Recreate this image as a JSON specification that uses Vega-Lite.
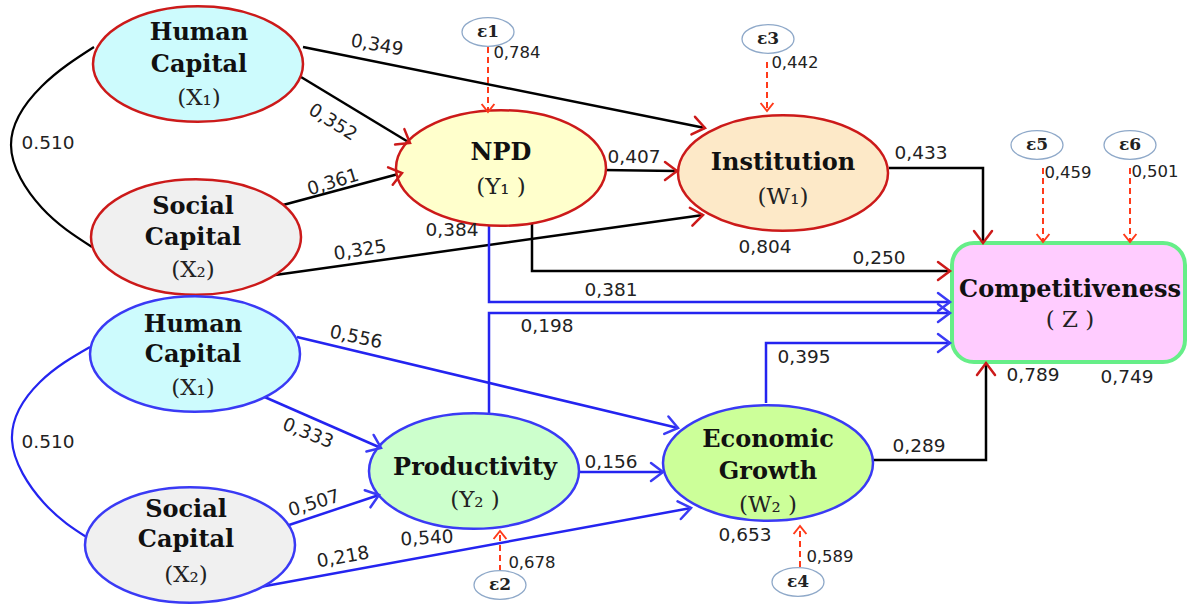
{
  "$schema": "https://vega.github.io/schema/vega-lite/v6.json",
  "width": 1188,
  "height": 604,
  "autosize": "none",
  "padding": 0,
  "background": "#ffffff",
  "config": {"view": {"stroke": null}},
  "datasets": {
    "edges": [
      {"id": "e1", "kind": "top", "i": 0, "x": 303, "y": 47}, {"id": "e1", "kind": "top", "i": 1, "x": 705, "y": 128},
      {"id": "e2", "kind": "top", "i": 0, "x": 301, "y": 77}, {"id": "e2", "kind": "top", "i": 1, "x": 410, "y": 143},
      {"id": "e3", "kind": "top", "i": 0, "x": 283, "y": 205}, {"id": "e3", "kind": "top", "i": 1, "x": 402, "y": 173},
      {"id": "e4", "kind": "top", "i": 0, "x": 268, "y": 276}, {"id": "e4", "kind": "top", "i": 1, "x": 703, "y": 215},
      {"id": "e5", "kind": "top", "i": 0, "x": 602, "y": 170}, {"id": "e5", "kind": "top", "i": 1, "x": 677, "y": 171},
      {"id": "e6", "kind": "top", "i": 0, "x": 889, "y": 168}, {"id": "e6", "kind": "top", "i": 1, "x": 983, "y": 168}, {"id": "e6", "kind": "top", "i": 2, "x": 983, "y": 243},
      {"id": "e7", "kind": "top", "i": 0, "x": 532, "y": 222}, {"id": "e7", "kind": "top", "i": 1, "x": 532, "y": 271}, {"id": "e7", "kind": "top", "i": 2, "x": 950, "y": 271},
      {"id": "e8", "kind": "top", "i": 0, "x": 873, "y": 460}, {"id": "e8", "kind": "top", "i": 1, "x": 986, "y": 460}, {"id": "e8", "kind": "top", "i": 2, "x": 986, "y": 363},
      {"id": "e9", "kind": "bottom", "i": 0, "x": 489, "y": 224}, {"id": "e9", "kind": "bottom", "i": 1, "x": 489, "y": 302}, {"id": "e9", "kind": "bottom", "i": 2, "x": 950, "y": 302},
      {"id": "e10", "kind": "bottom", "i": 0, "x": 489, "y": 413}, {"id": "e10", "kind": "bottom", "i": 1, "x": 489, "y": 313}, {"id": "e10", "kind": "bottom", "i": 2, "x": 950, "y": 313},
      {"id": "e11", "kind": "bottom", "i": 0, "x": 766, "y": 403}, {"id": "e11", "kind": "bottom", "i": 1, "x": 766, "y": 343}, {"id": "e11", "kind": "bottom", "i": 2, "x": 950, "y": 343},
      {"id": "e12", "kind": "bottom", "i": 0, "x": 297, "y": 337}, {"id": "e12", "kind": "bottom", "i": 1, "x": 678, "y": 428},
      {"id": "e13", "kind": "bottom", "i": 0, "x": 260, "y": 395}, {"id": "e13", "kind": "bottom", "i": 1, "x": 381, "y": 448},
      {"id": "e14", "kind": "bottom", "i": 0, "x": 283, "y": 527}, {"id": "e14", "kind": "bottom", "i": 1, "x": 379, "y": 495},
      {"id": "e15", "kind": "bottom", "i": 0, "x": 260, "y": 587}, {"id": "e15", "kind": "bottom", "i": 1, "x": 691, "y": 508},
      {"id": "e16", "kind": "bottom", "i": 0, "x": 579, "y": 472}, {"id": "e16", "kind": "bottom", "i": 1, "x": 663, "y": 472},
      {"id": "r1", "kind": "error", "i": 0, "x": 488, "y": 47}, {"id": "r1", "kind": "error", "i": 1, "x": 488, "y": 112},
      {"id": "r3", "kind": "error", "i": 0, "x": 767, "y": 62}, {"id": "r3", "kind": "error", "i": 1, "x": 767, "y": 111},
      {"id": "r5", "kind": "error", "i": 0, "x": 1043, "y": 168}, {"id": "r5", "kind": "error", "i": 1, "x": 1043, "y": 242},
      {"id": "r6", "kind": "error", "i": 0, "x": 1130, "y": 168}, {"id": "r6", "kind": "error", "i": 1, "x": 1130, "y": 242},
      {"id": "r2", "kind": "error", "i": 0, "x": 500, "y": 571}, {"id": "r2", "kind": "error", "i": 1, "x": 500, "y": 531},
      {"id": "r4", "kind": "error", "i": 0, "x": 800, "y": 567}, {"id": "r4", "kind": "error", "i": 1, "x": 800, "y": 526}
    ],
    "curves": [
      {"id": "c1", "kind": "top", "i": 0, "x": 94, "y": 47},
      {"id": "c1", "kind": "top", "i": 1, "x": 42, "y": 86},
      {"id": "c1", "kind": "top", "i": 2, "x": 11, "y": 145},
      {"id": "c1", "kind": "top", "i": 3, "x": 42, "y": 208},
      {"id": "c1", "kind": "top", "i": 4, "x": 92, "y": 247},
      {"id": "c2", "kind": "bottom", "i": 0, "x": 90, "y": 347},
      {"id": "c2", "kind": "bottom", "i": 1, "x": 40, "y": 382},
      {"id": "c2", "kind": "bottom", "i": 2, "x": 12, "y": 440},
      {"id": "c2", "kind": "bottom", "i": 3, "x": 44, "y": 503},
      {"id": "c2", "kind": "bottom", "i": 4, "x": 88, "y": 538}
    ],
    "arrows": [
      {"kind": "top", "x": 705, "y": 128, "angle": 11.4},
      {"kind": "top", "x": 410, "y": 143, "angle": 31},
      {"kind": "top", "x": 402, "y": 173, "angle": -15},
      {"kind": "top", "x": 703, "y": 215, "angle": -8},
      {"kind": "top", "x": 677, "y": 171, "angle": 0},
      {"kind": "top", "x": 983, "y": 243, "angle": 90},
      {"kind": "top", "x": 950, "y": 271, "angle": 0},
      {"kind": "top", "x": 986, "y": 363, "angle": -90},
      {"kind": "bottom", "x": 950, "y": 302, "angle": 0},
      {"kind": "bottom", "x": 950, "y": 313, "angle": 0},
      {"kind": "bottom", "x": 950, "y": 343, "angle": 0},
      {"kind": "bottom", "x": 678, "y": 428, "angle": 13.4},
      {"kind": "bottom", "x": 381, "y": 448, "angle": 23.6},
      {"kind": "bottom", "x": 379, "y": 495, "angle": -18.4},
      {"kind": "bottom", "x": 691, "y": 508, "angle": -10.4},
      {"kind": "bottom", "x": 663, "y": 472, "angle": 0},
      {"kind": "error", "x": 488, "y": 112, "angle": 90},
      {"kind": "error", "x": 767, "y": 111, "angle": 90},
      {"kind": "error", "x": 1043, "y": 242, "angle": 90},
      {"kind": "error", "x": 1130, "y": 242, "angle": 90},
      {"kind": "error", "x": 500, "y": 531, "angle": -90},
      {"kind": "error", "x": 800, "y": 526, "angle": -90}
    ],
    "nodes": [
      {"id": "HC1", "group": "top", "x": 198, "y": 64},
      {"id": "SC1", "group": "top", "x": 196, "y": 237},
      {"id": "NPD", "group": "top", "x": 501, "y": 168},
      {"id": "INST", "group": "top", "x": 783, "y": 173},
      {"id": "HC2", "group": "bottom", "x": 195, "y": 354},
      {"id": "SC2", "group": "bottom", "x": 190, "y": 545},
      {"id": "PROD", "group": "bottom", "x": 474, "y": 471},
      {"id": "EG", "group": "bottom", "x": 768, "y": 463}
    ],
    "errs": [
      {"text": "ε1", "x": 488, "y": 32},
      {"text": "ε3", "x": 768, "y": 39},
      {"text": "ε5", "x": 1037, "y": 145},
      {"text": "ε6", "x": 1130, "y": 145},
      {"text": "ε2", "x": 500, "y": 585},
      {"text": "ε4", "x": 798, "y": 582}
    ],
    "box": [{"x": 952, "x2": 1185, "y": 243, "y2": 362}],
    "labels": [
      {"role": "name", "text": "Human", "x": 199, "y": 33},
      {"role": "name", "text": "Capital", "x": 199, "y": 65},
      {"role": "index", "text": "(X₁)", "x": 199, "y": 98},
      {"role": "name", "text": "Social", "x": 193, "y": 207},
      {"role": "name", "text": "Capital", "x": 193, "y": 238},
      {"role": "index", "text": "(X₂)", "x": 193, "y": 270},
      {"role": "name", "text": "NPD", "x": 501, "y": 153},
      {"role": "index", "text": "(Y₁ )", "x": 501, "y": 187},
      {"role": "name", "text": "Institution", "x": 783, "y": 163},
      {"role": "index", "text": "(W₁)", "x": 783, "y": 197},
      {"role": "name", "text": "Human", "x": 193, "y": 325},
      {"role": "name", "text": "Capital", "x": 193, "y": 355},
      {"role": "index", "text": "(X₁)", "x": 193, "y": 388},
      {"role": "name", "text": "Social", "x": 186, "y": 510},
      {"role": "name", "text": "Capital", "x": 186, "y": 540},
      {"role": "index", "text": "(X₂)", "x": 186, "y": 575},
      {"role": "name", "text": "Productivity", "x": 475, "y": 468},
      {"role": "index", "text": "(Y₂ )", "x": 475, "y": 500},
      {"role": "name", "text": "Economic", "x": 768, "y": 440},
      {"role": "name", "text": "Growth", "x": 768, "y": 472},
      {"role": "index", "text": "(W₂ )", "x": 768, "y": 505},
      {"role": "name", "text": "Competitiveness", "x": 1070, "y": 290},
      {"role": "index", "text": "( Z )", "x": 1070, "y": 320}
    ],
    "coefs": [
      {"role": "coef", "text": "0,349", "x": 377, "y": 45, "angle": 10},
      {"role": "coef", "text": "0,352", "x": 333, "y": 122, "angle": 32},
      {"role": "coef", "text": "0,361", "x": 333, "y": 182, "angle": -17},
      {"role": "coef", "text": "0,325", "x": 360, "y": 250, "angle": -9},
      {"role": "coef", "text": "0,384", "x": 452, "y": 230, "angle": 0},
      {"role": "coef", "text": "0,407", "x": 634, "y": 157, "angle": 0},
      {"role": "coef", "text": "0,433", "x": 921, "y": 153, "angle": 0},
      {"role": "coef", "text": "0,804", "x": 765, "y": 247, "angle": 0},
      {"role": "coef", "text": "0,250", "x": 879, "y": 258, "angle": 0},
      {"role": "coef", "text": "0,381", "x": 611, "y": 290, "angle": 0},
      {"role": "coef", "text": "0,198", "x": 547, "y": 326, "angle": 0},
      {"role": "coef", "text": "0,395", "x": 804, "y": 357, "angle": 0},
      {"role": "coef", "text": "0,556", "x": 356, "y": 337, "angle": 12},
      {"role": "coef", "text": "0,333", "x": 308, "y": 433, "angle": 22},
      {"role": "coef", "text": "0,507", "x": 314, "y": 503, "angle": -17},
      {"role": "coef", "text": "0,218", "x": 343, "y": 557, "angle": -10},
      {"role": "coef", "text": "0,540", "x": 427, "y": 538, "angle": -3},
      {"role": "coef", "text": "0,156", "x": 611, "y": 462, "angle": 0},
      {"role": "coef", "text": "0,289", "x": 919, "y": 446, "angle": 0},
      {"role": "coef", "text": "0,653", "x": 745, "y": 535, "angle": 0},
      {"role": "coef", "text": "0,789", "x": 1033, "y": 375, "angle": 0},
      {"role": "coef", "text": "0,749", "x": 1127, "y": 377, "angle": 0},
      {"role": "coef", "text": "0.510", "x": 48, "y": 143, "angle": 0},
      {"role": "coef", "text": "0.510", "x": 48, "y": 442, "angle": 0},
      {"role": "err", "text": "0,784", "x": 517, "y": 53, "angle": 0},
      {"role": "err", "text": "0,442", "x": 795, "y": 63, "angle": 0},
      {"role": "err", "text": "0,459", "x": 1068, "y": 173, "angle": 0},
      {"role": "err", "text": "0,501", "x": 1155, "y": 172, "angle": 0},
      {"role": "err", "text": "0,678", "x": 532, "y": 563, "angle": 0},
      {"role": "err", "text": "0,589", "x": 830, "y": 557, "angle": 0}
    ]
  },
  "layer": [
    {
      "data": {"name": "curves"},
      "mark": {"type": "line", "interpolate": "natural", "strokeWidth": 2.2},
      "encoding": {
        "x": {"field": "x", "type": "quantitative", "scale": {"domain": [0, 1188], "nice": false, "zero": false}, "axis": null},
        "y": {"field": "y", "type": "quantitative", "scale": {"domain": [0, 604], "reverse": true, "nice": false, "zero": false}, "axis": null},
        "detail": {"field": "id"},
        "order": {"field": "i", "type": "quantitative"},
        "color": {"field": "kind", "type": "nominal", "scale": {"domain": ["top", "bottom", "error"], "range": ["#000000", "#2424f0", "#ff3a1a"]}, "legend": null}
      }
    },
    {
      "data": {"name": "edges"},
      "transform": [{"filter": "datum.kind != 'error'"}],
      "mark": {"type": "line", "strokeWidth": 2.5},
      "encoding": {
        "x": {"field": "x", "type": "quantitative", "scale": {"domain": [0, 1188], "nice": false, "zero": false}, "axis": null},
        "y": {"field": "y", "type": "quantitative", "scale": {"domain": [0, 604], "reverse": true, "nice": false, "zero": false}, "axis": null},
        "detail": {"field": "id"},
        "order": {"field": "i", "type": "quantitative"},
        "color": {"field": "kind", "type": "nominal", "scale": {"domain": ["top", "bottom", "error"], "range": ["#000000", "#2424f0", "#ff3a1a"]}, "legend": null}
      }
    },
    {
      "data": {"name": "edges"},
      "transform": [{"filter": "datum.kind == 'error'"}],
      "mark": {"type": "line", "strokeWidth": 2, "strokeDash": [6, 4], "color": "#ff3a1a"},
      "encoding": {
        "x": {"field": "x", "type": "quantitative", "axis": null},
        "y": {"field": "y", "type": "quantitative", "axis": null},
        "detail": {"field": "id"},
        "order": {"field": "i", "type": "quantitative"}
      }
    },
    {
      "data": {"name": "nodes"},
      "mark": {"type": "point", "shape": "M-1,0C-1,-0.304,-0.552,-0.55,0,-0.55C0.552,-0.55,1,-0.304,1,0C1,0.304,0.552,0.55,0,0.55C-0.552,0.55,-1,0.304,-1,0Z", "filled": true, "size": 44100, "strokeWidth": 2.5, "opacity": 1, "fillOpacity": 1, "strokeOpacity": 1},
      "encoding": {
        "x": {"field": "x", "type": "quantitative", "axis": null},
        "y": {"field": "y", "type": "quantitative", "axis": null},
        "fill": {"field": "id", "type": "nominal", "scale": {"domain": ["HC1", "SC1", "NPD", "INST", "HC2", "SC2", "PROD", "EG"], "range": ["#cdfbfd", "#f0f0f0", "#ffffcc", "#fde9c8", "#cdfbfd", "#f0f0f0", "#ccffcc", "#ccff99"]}, "legend": null},
        "stroke": {"field": "group", "type": "nominal", "scale": {"domain": ["top", "bottom"], "range": ["#cc1a1a", "#3a3af5"]}, "legend": null}
      }
    },
    {
      "data": {"name": "errs"},
      "mark": {"type": "point", "shape": "M-1,0C-1,-0.304,-0.552,-0.55,0,-0.55C0.552,-0.55,1,-0.304,1,0C1,0.304,0.552,0.55,0,0.55C-0.552,0.55,-1,0.304,-1,0Z", "filled": true, "size": 2704, "fill": "#ffffff", "stroke": "#8fa9c9", "strokeWidth": 1.3, "opacity": 1},
      "encoding": {
        "x": {"field": "x", "type": "quantitative", "axis": null},
        "y": {"field": "y", "type": "quantitative", "axis": null}
      }
    },
    {
      "data": {"name": "box"},
      "mark": {"type": "rect", "cornerRadius": 22, "fill": "#ffccff", "stroke": "#66ee88", "strokeWidth": 4},
      "encoding": {
        "x": {"field": "x", "type": "quantitative", "axis": null},
        "x2": {"field": "x2"},
        "y": {"field": "y", "type": "quantitative", "axis": null},
        "y2": {"field": "y2"}
      }
    },
    {
      "data": {"name": "arrows"},
      "transform": [{"filter": "datum.kind != 'error'"}],
      "mark": {"type": "point", "shape": "M-1,-0.75L0,0L-1,0.75", "filled": false, "size": 576, "strokeWidth": 2.5, "opacity": 1, "strokeCap": "round"},
      "encoding": {
        "x": {"field": "x", "type": "quantitative", "axis": null},
        "y": {"field": "y", "type": "quantitative", "axis": null},
        "angle": {"field": "angle", "type": "quantitative", "scale": null},
        "stroke": {"field": "kind", "type": "nominal", "scale": {"domain": ["top", "bottom"], "range": ["#000000", "#2424f0"]}, "legend": null}
      }
    },
    {
      "data": {"name": "arrows"},
      "transform": [{"filter": "datum.kind == 'error'"}],
      "mark": {"type": "point", "shape": "M-1,-0.8L0,0L-1,0.8", "filled": false, "size": 256, "strokeWidth": 2, "opacity": 1, "color": "#ff3a1a"},
      "encoding": {
        "x": {"field": "x", "type": "quantitative", "axis": null},
        "y": {"field": "y", "type": "quantitative", "axis": null},
        "angle": {"field": "angle", "type": "quantitative", "scale": null}
      }
    },
    {
      "data": {"name": "labels"},
      "transform": [{"filter": "datum.role == 'name'"}],
      "mark": {"type": "text", "font": "DejaVu Serif", "fontWeight": "bold", "fontSize": 24, "color": "#111111", "baseline": "middle", "align": "center"},
      "encoding": {
        "x": {"field": "x", "type": "quantitative", "axis": null},
        "y": {"field": "y", "type": "quantitative", "axis": null},
        "text": {"field": "text"}
      }
    },
    {
      "data": {"name": "labels"},
      "transform": [{"filter": "datum.role == 'index'"}],
      "mark": {"type": "text", "font": "DejaVu Serif", "fontSize": 23, "color": "#222222", "baseline": "middle", "align": "center"},
      "encoding": {
        "x": {"field": "x", "type": "quantitative", "axis": null},
        "y": {"field": "y", "type": "quantitative", "axis": null},
        "text": {"field": "text"}
      }
    },
    {
      "data": {"name": "errs"},
      "mark": {"type": "text", "font": "DejaVu Serif", "fontWeight": "bold", "fontSize": 17, "color": "#222222", "baseline": "middle", "align": "center"},
      "encoding": {
        "x": {"field": "x", "type": "quantitative", "axis": null},
        "y": {"field": "y", "type": "quantitative", "axis": null},
        "text": {"field": "text"}
      }
    },
    {
      "data": {"name": "coefs"},
      "transform": [{"filter": "datum.role == 'coef'"}],
      "mark": {"type": "text", "font": "DejaVu Sans", "fontSize": 18.5, "color": "#222222", "baseline": "middle", "align": "center"},
      "encoding": {
        "x": {"field": "x", "type": "quantitative", "axis": null},
        "y": {"field": "y", "type": "quantitative", "axis": null},
        "angle": {"field": "angle", "type": "quantitative", "scale": null},
        "text": {"field": "text"}
      }
    },
    {
      "data": {"name": "coefs"},
      "transform": [{"filter": "datum.role == 'err'"}],
      "mark": {"type": "text", "font": "DejaVu Sans", "fontSize": 16.5, "color": "#222222", "baseline": "middle", "align": "center"},
      "encoding": {
        "x": {"field": "x", "type": "quantitative", "axis": null},
        "y": {"field": "y", "type": "quantitative", "axis": null},
        "text": {"field": "text"}
      }
    }
  ]
}
